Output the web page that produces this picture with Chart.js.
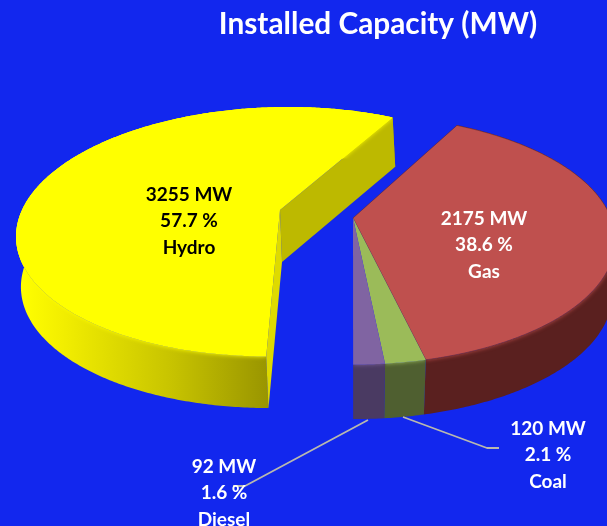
<!DOCTYPE html>
<html><head><meta charset="utf-8">
<script src="https://cdn.jsdelivr.net/npm/chart.js@4"></script>
<style>html,body{margin:0;padding:0;background:#1227ee;overflow:hidden}canvas{display:block;filter:blur(0.35px)}</style>
</head><body><canvas id="c" width="607" height="526"></canvas>
<script>
const categories = ['Gas', 'Coal', 'Diesel', 'Hydro'];
const capacityMW = [2175, 120, 92, 3255];
const percents = ['38.6', '2.1', '1.6', '57.7'];
const topColors = ['#bf504e', '#9bbb59', '#8064a2', '#ffff00'];
const wallColors = ['#5a201f', '#4f5f30', '#4a3a62', '#c8c400'];

const BG = '#1227ee';
const ROTATION_DEG = 28;
// exploded position of each slice: [top apex x, y, bottom apex x, y, perspective lean]
const APEX = [[353,218,353,273,1.5],[353,218,353,273,1.5],[353,218,353,273,1.5],[280,210,282,262,-10]];
const TOP = {rx:258, ry:121, k:0.174};
const BOT = {rx:256, ry:123, k:0.158};
const LABEL_POS = [[484,218,'#fff'],[548,428,'#fff'],[224,466,'#fff'],[189,194,'#000']];
const LEADERS = [
  [[368,420],[245,486],[233,486]],
  [[403,417],[487,448],[499,448]]
];

function proj(theta, p, ax, ay, lean){
  const u = Math.sin(theta), v = -Math.cos(theta), w = 1/(1 - p.k*v);
  return [ax + (p.rx*u + lean*v)*w, ay + p.ry*v*w];
}
function trace(ctx, pts){
  ctx.beginPath();
  pts.forEach((q,i)=> i ? ctx.lineTo(q[0],q[1]) : ctx.moveTo(q[0],q[1]));
  ctx.closePath();
}
function arcPts(a0, a1, p, ax, ay, lean){
  const out = [], n = Math.max(2, Math.ceil(Math.abs(a1-a0)/0.01));
  for(let i=0;i<=n;i++) out.push(proj(a0+(a1-a0)*i/n, p, ax, ay, lean));
  return out;
}

const pie3d = {
  id:'pie3d',
  beforeDraw(chart){
    const c = chart.ctx; c.save(); c.fillStyle = BG;
    c.fillRect(0,0,chart.width,chart.height); c.restore();
  },
  beforeDatasetsDraw(chart){
    const ctx = chart.ctx, meta = chart.getDatasetMeta(0);
    const order = [3,0,1,2];
    order.forEach(i=>{
      const el = meta.data[i];
      const a0 = el.startAngle + Math.PI/2, a1 = el.endAngle + Math.PI/2;
      const [tx,ty,bx,by,lean] = APEX[i];
      const topArc = arcPts(a0,a1,TOP,tx,ty,lean), botArc = arcPts(a0,a1,BOT,bx,by,lean);
      const wallPoly = topArc.concat(botArc.slice().reverse());
      const topPoly = [[tx,ty]].concat(topArc);
      ctx.save();
      let wall = wallColors[i];
      if(i===3){
        wall = ctx.createLinearGradient(20,0,270,0);
        wall.addColorStop(0,'#ffff00'); wall.addColorStop(0.15,'#f4f000');
        wall.addColorStop(0.6,'#c8c400'); wall.addColorStop(1,'#989400');
      }
      ctx.fillStyle = wall;
      trace(ctx, wallPoly); ctx.fill();
      if(i===3){
        ctx.fillStyle = '#bdb900';
        const e = topArc[topArc.length-1], eb = botArc[botArc.length-1];
        trace(ctx, [[tx,ty],e,eb,[bx,by]]); ctx.fill();
        ctx.fillStyle = '#dedA00';
        const s = topArc[0], sb = botArc[0];
        trace(ctx, [[tx,ty],s,sb,[bx,by]]); ctx.fill();
      }
      // soft edge where the top meets the wall
      ctx.save();
      trace(ctx, wallPoly); ctx.clip();
      ctx.shadowColor = el.options.backgroundColor;
      ctx.shadowBlur = 4;
      ctx.fillStyle = el.options.backgroundColor;
      trace(ctx, topPoly); ctx.fill();
      ctx.restore();
      ctx.fillStyle = el.options.backgroundColor;
      trace(ctx, topPoly); ctx.fill();
      if(i===0){
        ctx.strokeStyle = 'rgba(80,30,40,0.55)'; ctx.lineWidth = 0.9;
        trace(ctx, topPoly); ctx.stroke();
      }
      ctx.restore();
    });
    ctx.save();
    ctx.strokeStyle = '#b9b9ae'; ctx.lineWidth = 1.8; ctx.lineJoin='round';
    LEADERS.forEach(l=>{
      ctx.beginPath();
      l.forEach((q,i)=> i ? ctx.lineTo(q[0],q[1]) : ctx.moveTo(q[0],q[1]));
      ctx.stroke();
    });
    ctx.font = 'bold 19px Lato'; ctx.textAlign='center'; ctx.textBaseline='middle';
    categories.forEach((name,i)=>{
      const [x,y,col] = LABEL_POS[i];
      ctx.fillStyle = col;
      ctx.fillText(capacityMW[i]+' MW', x, y+0.7);
      ctx.fillText(percents[i]+' %', x, y+27.2);
      ctx.fillText(name, x, y+53.7);
    });
    ctx.restore();
    return false;
  }
};

new Chart(document.getElementById('c'), {
  type:'pie',
  data:{labels:categories, datasets:[{data:capacityMW, backgroundColor:topColors, borderWidth:0}]},
  options:{
    responsive:false, animation:false, rotation:ROTATION_DEG,
    layout:{padding:{left:149,top:3}},
    plugins:{
      legend:{display:false}, tooltip:{enabled:false},
      title:{display:true, fullSize:false, text:'Installed Capacity (MW)', color:'#fff',
             font:{family:'Lato', size:29.8, weight:'bold'}, padding:{top:4,bottom:4}}
    }
  },
  plugins:[pie3d]
});
</script></body></html>
